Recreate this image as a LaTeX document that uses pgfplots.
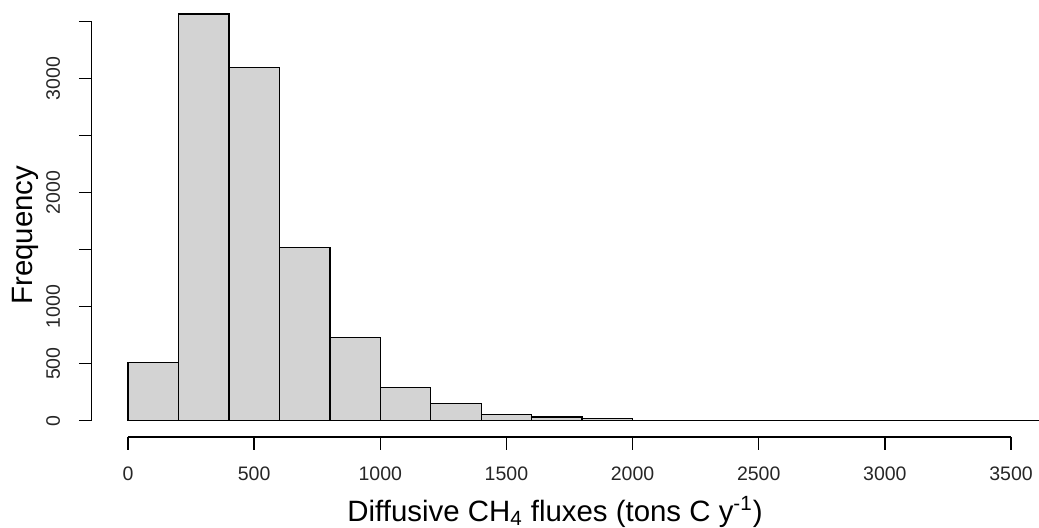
\documentclass[border=0pt]{standalone}
\usepackage{pgfplots}
\pgfplotsset{compat=1.18}
\usepackage{fontspec}
\setmainfont{Liberation Sans}
\definecolor{histfill}{RGB}{211,211,211}

\begin{document}
\begin{tikzpicture}
\begin{axis}[
    at={(0,0)}, anchor=south west,
    scale only axis,
    width=473.67pt, height=218.5pt,
    xmin=-144, xmax=3610.9,
    ymin=-143, ymax=3690.3,
    clip=false,
    axis line style={draw=none},
    xtick={0,500,...,3500},
    ytick={0,500,...,3500},
    yticklabels={0,500,1000,,2000,,3000,},
    xtick pos=bottom, ytick pos=left,
    tick align=outside,
    major tick length=6.4pt,
    tick style={black, line width=0.7pt},
    /pgf/number format/assume math mode=true,
    /pgf/number format/1000 sep={},
    ticklabel style={font=\fontsize{9.75}{11}\selectfont, text=black!85},
    xticklabel style={anchor=base, yshift=-15.3pt},
    yticklabel style={xshift=-9.5pt, rotate=90, anchor=base},
    every axis x label/.style={at={(axis description cs:0.4891,0)}, yshift=-42pt, anchor=base},
    every axis y label/.style={at={(axis description cs:0,0.462)}, xshift=-29.8pt, rotate=90, anchor=base},
    label style={font=\fontsize{14.7}{17}\selectfont},
    xlabel={Diffusive CH\textsubscript{4} fluxes (tons C y\textsuperscript{-1})},
    ylabel={Frequency},
]
\addplot[ybar interval, fill=histfill, draw=black, line width=0.7pt]
    coordinates {
    (0,509) (200,3567) (400,3100) (600,1518) (800,732)
    (1000,293) (1200,153) (1400,56) (1600,32) (1800,18)
    (2000,2) (2200,1) (2400,1) (2600,1) (2800,0)
    (3000,1) (3200,0) (3400,1) (3600,0) (3800,0)
    };
\draw[black, line width=0.7pt] (axis cs:0,-143) -- (axis cs:3500,-143);
\draw[black, line width=0.7pt] (axis cs:-144,0) -- (axis cs:-144,3500);
\end{axis}
\pgfresetboundingbox
\useasboundingbox (-45.83pt,-45pt) rectangle (473.67pt,218.5pt);
\end{tikzpicture}
\end{document}
